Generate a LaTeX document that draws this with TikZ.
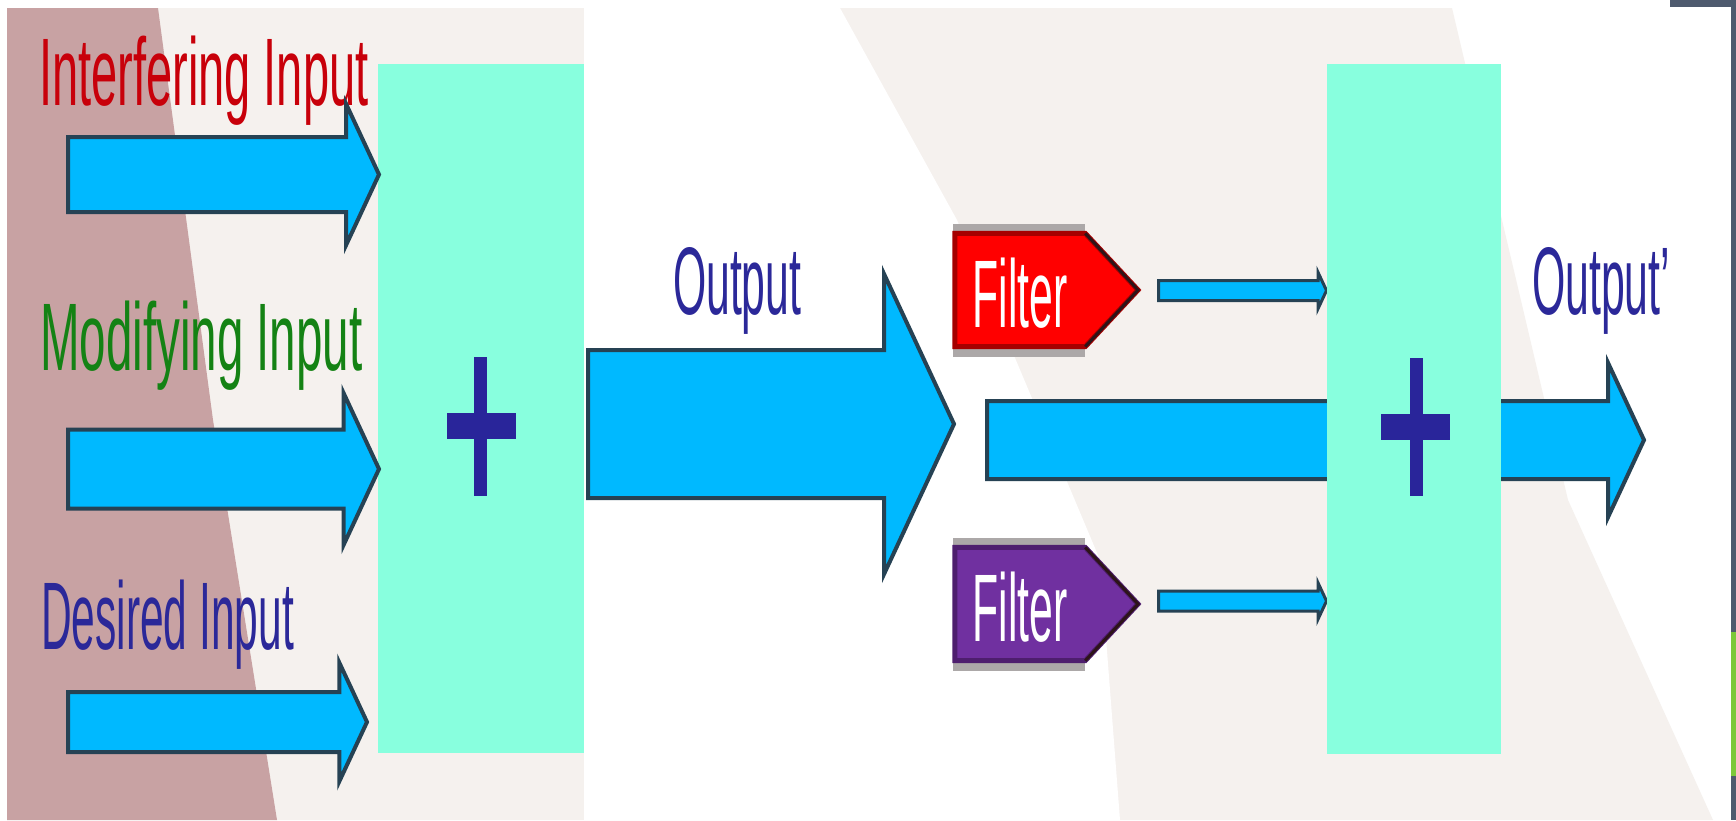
\documentclass[tikz,border=0pt]{standalone}
\usepackage{fontspec}
\setmainfont{Liberation Sans}
\usetikzlibrary{shapes.arrows}

\definecolor{boxgreen}{RGB}{136,255,222}
\definecolor{arrowblue}{RGB}{0,185,255}
\definecolor{arrowedge}{RGB}{38,66,84}
\definecolor{plusblue}{RGB}{41,37,154}
\definecolor{inred}{RGB}{200,0,10}
\definecolor{ingreen}{RGB}{20,130,20}
\definecolor{inblue}{RGB}{43,40,153}
\definecolor{filterred}{RGB}{255,0,0}
\definecolor{filterrededge}{RGB}{165,0,0}
\definecolor{filterpurple}{RGB}{112,48,160}
\definecolor{filterpurpleedge}{RGB}{78,30,110}
\definecolor{pointeredge}{RGB}{45,20,25}
\definecolor{shadowgray}{RGB}{172,168,168}
\definecolor{bgbeige}{RGB}{245,241,238}
\definecolor{bgpink}{RGB}{200,162,163}
\definecolor{framegray}{RGB}{78,90,110}
\definecolor{framegreen}{RGB}{125,200,58}

\begin{document}
\begin{tikzpicture}[
        x=1pt, y=-1pt,
        sumbox/.style={rectangle, fill=boxgreen, inner sep=0pt},
        flowarrow/.style={single arrow, fill=arrowblue, draw=arrowedge, line width=4pt,
            inner xsep=0pt, single arrow tip angle=130, single arrow head indent=0pt,
            anchor=tail},
        thinarrow/.style={flowarrow, line width=3pt},
        filterbody/.style={rectangle, minimum width=130pt, minimum height=113pt, inner sep=0pt},
        bigtext/.style={font=\fontsize{96}{100}\selectfont, inner sep=0pt},
        intext/.style={bigtext, anchor=base west}
    ]
    \useasboundingbox (0,0) rectangle (1736,820);

    % Background
    \fill[white] (0,0) rectangle (1736,820);
    \fill[bgbeige] (7,8) -- (1452,8) -- (1568,500) -- (1713,820) -- (7,820) -- cycle;
    \fill[white] (584,8) -- (840,8) -- (957,220) -- (1100,560) -- (1120,820) -- (584,820) -- cycle;
    \fill[bgpink] (7,8) -- (158,8) -- (213,420) -- (277,820) -- (7,820) -- cycle;
    \fill[framegray] (1670,0) rectangle (1736,7);
    \fill[framegray] (1731,0) rectangle (1736,820);
    \fill[framegreen] (1731,632) rectangle (1736,776);

    % Input labels
    \node[intext, text=inred, xscale=0.49] (lint) at (39,105) {Interfering Input};
    \node[intext, text=ingreen, xscale=0.495] (lmod) at (40,370) {Modifying Input};
    \node[intext, text=inblue, xscale=0.443] (ldes) at (41,649) {Desired Input};

    % First summing block
    \node[sumbox, minimum width=206pt, minimum height=689pt] (sum1) at (481,408.5) {};
    \fill[plusblue] (447,413) rectangle (516,439);
    \fill[plusblue] (474,357) rectangle (487,496);

    % Input arrows
    \node[flowarrow, minimum height=311pt, inner ysep=35.5pt, single arrow head extend=33pt] (ain1) at (66,174.5) {};
    \node[flowarrow, minimum height=311pt, inner ysep=37.5pt, single arrow head extend=36.5pt] (ain2) at (66,469) {};
    \node[flowarrow, minimum height=299pt, inner ysep=28pt, single arrow head extend=29.5pt] (ain3) at (66,722) {};

    % Output of first block
    \node[flowarrow, minimum height=366pt, inner ysep=72pt, single arrow head extend=76pt] (aout) at (586,424) {};
    \node[intext, text=inblue, xscale=0.445] (lout) at (673,314) {Output};

    % Filters
    \fill[shadowgray] (953,224) rectangle (1085,357);
    \node[filterbody] (filt1) at (1020,290) {};
    \filldraw[fill=filterred, draw=filterrededge, line width=5pt]
        (filt1.north west) -- (filt1.north east) -- (1138,290) -- (filt1.south east) -- (filt1.south west) -- cycle;
    \draw[pointeredge, line width=3pt] (filt1.north east) -- (1138,290) -- (filt1.south east);
    \node[bigtext, text=white, xscale=0.445] (ftxt1) at ([yshift=-3pt]filt1.center) {Filter};

    \fill[shadowgray] (953,538) rectangle (1085,671);
    \node[filterbody] (filt2) at (1020,604) {};
    \filldraw[fill=filterpurple, draw=filterpurpleedge, line width=5pt]
        (filt2.north west) -- (filt2.north east) -- (1138,604) -- (filt2.south east) -- (filt2.south west) -- cycle;
    \draw[pointeredge, line width=3pt] (filt2.north east) -- (1138,604) -- (filt2.south east);
    \node[bigtext, text=white, xscale=0.445] (ftxt2) at ([yshift=-3pt]filt2.center) {Filter};

    % Through path and filter paths
    \node[flowarrow, minimum height=657pt, inner ysep=37pt, single arrow head extend=38pt] (amid) at (985,440) {};
    \node[thinarrow, minimum height=168pt, inner ysep=8.5pt, single arrow head extend=8pt] (af1) at (1157,290.5) {};
    \node[thinarrow, minimum height=168pt, inner ysep=8.5pt, single arrow head extend=8pt] (af2) at (1157,601) {};

    % Second summing block
    \node[sumbox, minimum width=174pt, minimum height=690pt] (sum2) at (1414,409) {};
    \fill[plusblue] (1381,414) rectangle (1450,440);
    \fill[plusblue] (1410,358) rectangle (1423,496);
    \node[intext, text=inblue, xscale=0.446] (lout2) at (1532,314) {Output'};

\end{tikzpicture}
\end{document}
